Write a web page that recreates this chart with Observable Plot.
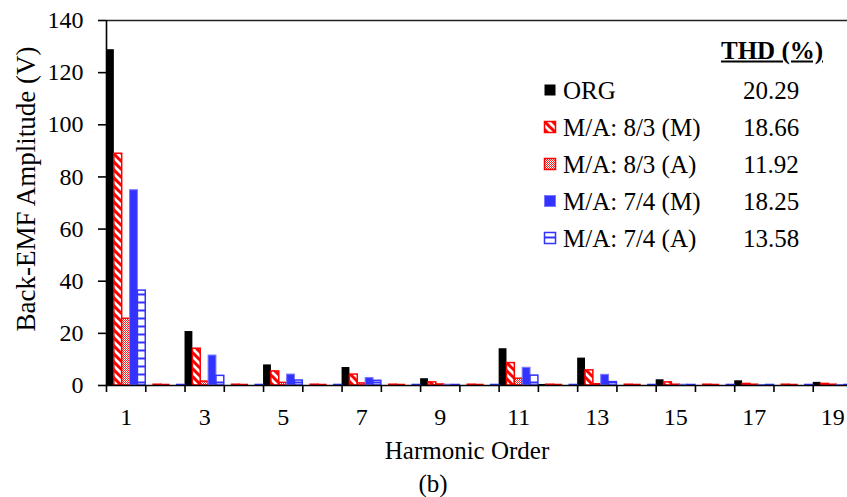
<!DOCTYPE html>
<html>
<head>
<meta charset="utf-8">
<script src="https://cdn.jsdelivr.net/npm/d3@7"></script>
<script src="https://cdn.jsdelivr.net/npm/@observablehq/plot@0.6"></script>
<style>
  body { margin: 0; overflow: hidden; background: #fff; }
  #chart { position: relative; width: 847px; height: 497px; overflow: hidden;
           font-family: "Liberation Serif", "Times New Roman", serif; color: #000; }
  #chart svg { position: absolute; left: 0; top: 0; }
  .title { position: absolute; white-space: nowrap; transform: translate(-50%, -50%); line-height: 1; }
  .legend-row { position: absolute; font-size: 25px; line-height: 1; white-space: nowrap; }
</style>
</head>
<body>
<div id="chart"></div>
<script>
// Harmonic spectrum of the back-EMF for the original and modified designs
const harmonics = [1, 2, 3, 4, 5, 6, 7, 8, 9, 10, 11, 12, 13, 14, 15, 16, 17, 18, 19];
const seriesNames = ["ORG", "M/A: 8/3 (M)", "M/A: 8/3 (A)", "M/A: 7/4 (M)", "M/A: 7/4 (A)"];

const org   = [128.8, 0,   20.7, 0,   7.9, 0,   6.9, 0,   2.6, 0,   14.1, 0.4, 10.5, 0,   2.2, 0,   1.8, 0,   1.2];
const ma83M = [88.9,  0.3, 14.1, 0.3, 5.4, 0.3, 4.2, 0.3, 1.2, 0.3, 8.6,  0.3, 5.8,  0.3, 1.2, 0.3, 0.6, 0.3, 0.6];
const ma83A = [25.6,  0.2, 1.5,  0.2, 1.0, 0.2, 0.8, 0.2, 0.4, 0.2, 2.6,  0.2, 0.5,  0.2, 0.3, 0.2, 0.3, 0.2, 0.3];
const ma74M = [74.9,  0,   11.5, 0,   4.2, 0,   2.9, 0,   0.3, 0,   6.8,  0,   4.1,  0,   0.3, 0,   0.2, 0,   0.2];
const ma74A = [36.4,  0.2, 3.7,  0.2, 1.9, 0.2, 1.8, 0.2, 0.2, 0.2, 3.8,  0.2, 1.3,  0.2, 0.2, 0.2, 0.2, 0.2, 0.2];

// Total harmonic distortion of each design
const thd = ["20.29", "18.66", "11.92", "18.25", "13.58"];

const yTicks = [0, 20, 40, 60, 80, 100, 120, 140];
const xTickLabels = [1, 3, 5, 7, 9, 11, 13, 15, 17, 19];

// Fill / outline of each series (patterns are defined in the SVG defs below)
const seriesStyle = [
  {fill: "#000000", stroke: "none", strokeWidth: 0},
  {fill: "url(#hatch-red)", stroke: "#ff0000", strokeWidth: 1.5},
  {fill: "url(#dots-red)", stroke: "#ff0000", strokeWidth: 1.5},
  {fill: "#3333ff", stroke: "#7a7aff", strokeWidth: 1},
  {fill: "url(#stripes-blue)", stroke: "#3333ff", strokeWidth: 1.5}
];

const seriesValues = [org, ma83M, ma83A, ma74M, ma74A];
const slot = 1 / seriesNames.length;

// Each harmonic occupies one unit on x; the five series share it side by side
const rows = seriesValues.flatMap((vals, k) =>
  vals.map((v, i) => ({
    series: seriesNames[k],
    k,
    harmonic: harmonics[i],
    x1: harmonics[i] - 0.5 + k * slot,
    x2: harmonics[i] - 0.5 + (k + 1) * slot,
    value: v
  }))
);

const boundaries = harmonics.map(h => h - 0.5).concat([harmonics[harmonics.length - 1] + 0.5]);
const xDomain = [boundaries[0], boundaries[boundaries.length - 1]];
const yDomain = [yTicks[0], yTicks[yTicks.length - 1]];

const plot = Plot.plot({
  width: 847,
  height: 497,
  marginLeft: 106,
  marginRight: -5,
  marginTop: 20,
  marginBottom: 112,
  style: {fontFamily: "'Liberation Serif', 'Times New Roman', serif", fontSize: "24px", color: "#000", background: "transparent"},
  x: {domain: xDomain},
  y: {domain: yDomain},
  marks: [
    ...seriesNames.map((name, k) =>
      Plot.rect(rows.filter(d => d.k === k), {
        x1: "x1", x2: "x2", y1: () => 0, y2: "value",
        fill: seriesStyle[k].fill,
        stroke: seriesStyle[k].stroke,
        strokeWidth: seriesStyle[k].strokeWidth
      })
    ),
    Plot.ruleY([yDomain[0]], {stroke: "#000", strokeWidth: 1.6}),
    Plot.ruleY([yDomain[1]], {stroke: "#222", strokeWidth: 1.6}),
    Plot.ruleX([xDomain[0]], {stroke: "#000", strokeWidth: 1.6}),
    Plot.axisY({ticks: yTicks, tickSize: 8, tickPadding: 15, label: null, strokeWidth: 1.6, stroke: "#000"}),
    Plot.axisX({ticks: boundaries, tickSize: 7, tickFormat: () => "", label: null, strokeWidth: 1.6, stroke: "#000"}),
    Plot.axisX({ticks: xTickLabels, tickSize: 0, tickPadding: 22, tickFormat: d => String(d), label: null})
  ]
});

// Fill patterns for the hatched, dotted and striped series
const defs = d3.select(plot).insert("defs", ":first-child");
const hatch = defs.append("pattern").attr("id", "hatch-red").attr("patternUnits", "userSpaceOnUse")
  .attr("width", 8).attr("height", 8);
hatch.append("rect").attr("width", 8).attr("height", 8).attr("fill", "#fff");
hatch.append("path").attr("d", "M-2,-2 L10,10 M-2,6 L2,10 M6,-2 L10,2")
  .attr("stroke", "#ff0000").attr("stroke-width", 3);

const dots = defs.append("pattern").attr("id", "dots-red").attr("patternUnits", "userSpaceOnUse")
  .attr("width", 2).attr("height", 2);
dots.append("rect").attr("width", 2).attr("height", 2).attr("fill", "#fff");
dots.append("rect").attr("width", 1).attr("height", 1).attr("fill", "#ff2020");
dots.append("rect").attr("x", 1).attr("y", 1).attr("width", 1).attr("height", 1).attr("fill", "#ff2020");

const stripes = defs.append("pattern").attr("id", "stripes-blue").attr("patternUnits", "userSpaceOnUse")
  .attr("width", 8).attr("height", 8);
stripes.append("rect").attr("width", 8).attr("height", 8).attr("fill", "#fff");
stripes.append("rect").attr("y", 5.5).attr("width", 8).attr("height", 2).attr("fill", "#3333ff");

const chart = document.getElementById("chart");
chart.appendChild(plot);

// Axis titles and panel label
function addTitle(text, x, y, size, rotate) {
  const el = document.createElement("div");
  el.className = "title";
  el.textContent = text;
  el.style.left = x + "px";
  el.style.top = y + "px";
  el.style.fontSize = size + "px";
  if (rotate) el.style.transform = "translate(-50%, -50%) rotate(-90deg)";
  chart.appendChild(el);
}
addTitle("Back-EMF Amplitude (V)", 26, 189, 27, true);
addTitle("Harmonic Order", 467, 450, 25, false);
addTitle("(b)", 433, 483, 25, false);

// Legend with THD column
const header = document.createElement("div");
header.className = "legend-row";
header.style.left = "772px";
header.style.top = "50px";
header.style.transform = "translate(-50%, -50%)";
header.style.fontWeight = "bold";
header.style.textDecoration = "underline";
header.textContent = "THD (%)";
chart.appendChild(header);

seriesNames.forEach((name, k) => {
  const cy = 90 + k * 37;
  const sw = document.createElementNS("http://www.w3.org/2000/svg", "svg");
  sw.setAttribute("width", 14);
  sw.setAttribute("height", 14);
  sw.style.position = "absolute";
  sw.style.left = "543px";
  sw.style.top = (cy - 7) + "px";
  const r = document.createElementNS("http://www.w3.org/2000/svg", "rect");
  r.setAttribute("x", 1.5); r.setAttribute("y", 1.5);
  r.setAttribute("width", 11); r.setAttribute("height", 11);
  r.setAttribute("fill", seriesStyle[k].fill);
  r.setAttribute("stroke", seriesStyle[k].stroke);
  r.setAttribute("stroke-width", Math.max(seriesStyle[k].strokeWidth, 0));
  sw.appendChild(r);
  chart.appendChild(sw);

  const label = document.createElement("div");
  label.className = "legend-row";
  label.style.left = "563px";
  label.style.top = cy + "px";
  label.style.transform = "translateY(-50%)";
  label.textContent = name;
  chart.appendChild(label);

  const val = document.createElement("div");
  val.className = "legend-row";
  val.style.left = "771px";
  val.style.top = cy + "px";
  val.style.transform = "translate(-50%, -50%)";
  val.textContent = thd[k];
  chart.appendChild(val);
});
</script>
</body>
</html>
